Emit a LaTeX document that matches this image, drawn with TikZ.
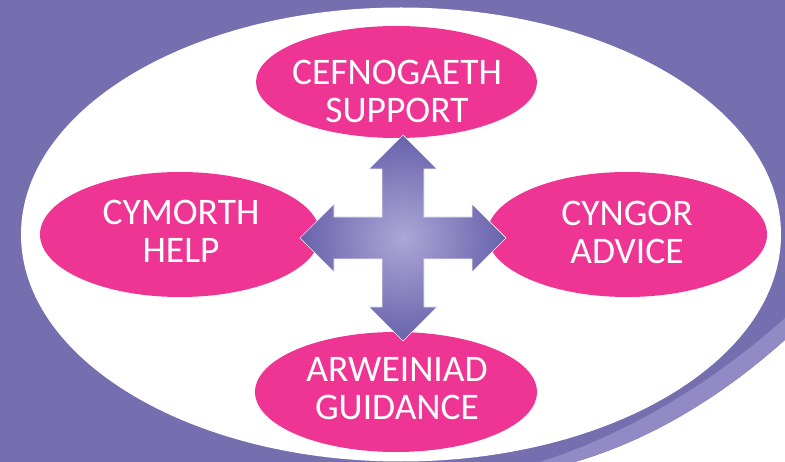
\documentclass[tikz,border=0pt]{standalone}
\usepackage{fontspec}
\setmainfont{Carlito}
\usetikzlibrary{shapes.geometric}
\definecolor{bgpurple}{RGB}{117,111,176}
\definecolor{bandpurple}{RGB}{146,138,197}
\definecolor{pinkfill}{RGB}{238,53,148}
\definecolor{arrowin}{RGB}{172,167,214}
\definecolor{arrowout}{RGB}{104,98,171}
\tikzset{
  bubble/.style={ellipse, fill=pinkfill, inner sep=0pt, outer sep=0pt},
  lbl/.style={text=white, align=center, anchor=north, inner sep=0pt,
    font=\fontsize{37.5}{38}\selectfont},
  crossarrow/.style={shading=radial, inner color=arrowin, outer color=arrowout,
    draw=white!80!arrowin, line width=0.7pt, line join=miter},
}
\begin{document}
\begin{tikzpicture}[x=1pt,y=-1pt]
\useasboundingbox (0,0) rectangle (785,462);
\fill[bgpurple] (0,0) rectangle (785,462);
% page-curl swoosh at bottom right
\fill[white] (785,340) .. controls (720,398) and (650,440) .. (575,462) -- (785,462) -- cycle;
\fill[bandpurple] (785,318) .. controls (725,372) and (640,430) .. (540,462)
  -- (575,462) .. controls (650,440) and (720,398) .. (785,340) -- cycle;
% white frame ellipse
\node[ellipse, fill=white, inner sep=0pt, outer sep=0pt, minimum width=760, minimum height=454] (frame) at (401,234.5) {};
% pink ellipses
\node[bubble, minimum width=281, minimum height=112] (top) at (396.5,82) {};
\node[bubble, minimum width=280, minimum height=125] (left) at (180,234.5) {};
\node[bubble, minimum width=280, minimum height=125] (right) at (627,234.5) {};
\node[bubble, minimum width=282, minimum height=120] (bottom) at (396,392) {};
% four-way arrow
\path[crossarrow]
  (403,135) -- (437,169) -- (424,169) -- (424,217) -- (472,217) -- (472,204)
  -- (506,238) -- (472,272) -- (472,259) -- (424,259) -- (424,307) -- (437,307)
  -- (403,341) -- (369,307) -- (382,307) -- (382,259) -- (334,259) -- (334,272)
  -- (300,238) -- (334,204) -- (334,217) -- (382,217) -- (382,169) -- (369,169) -- cycle;
% labels
\node[lbl] (toplbl) at (397,60) {CEFNOGAETH\\SUPPORT};
\node[lbl] (leftlbl) at (181,199.5) {CYMORTH\\HELP};
\node[lbl] (rightlbl) at (627,201) {CYNGOR\\ADVICE};
\node[lbl] (bottomlbl) at (397,357) {ARWEINIAD\\GUIDANCE};
\end{tikzpicture}
\end{document}
